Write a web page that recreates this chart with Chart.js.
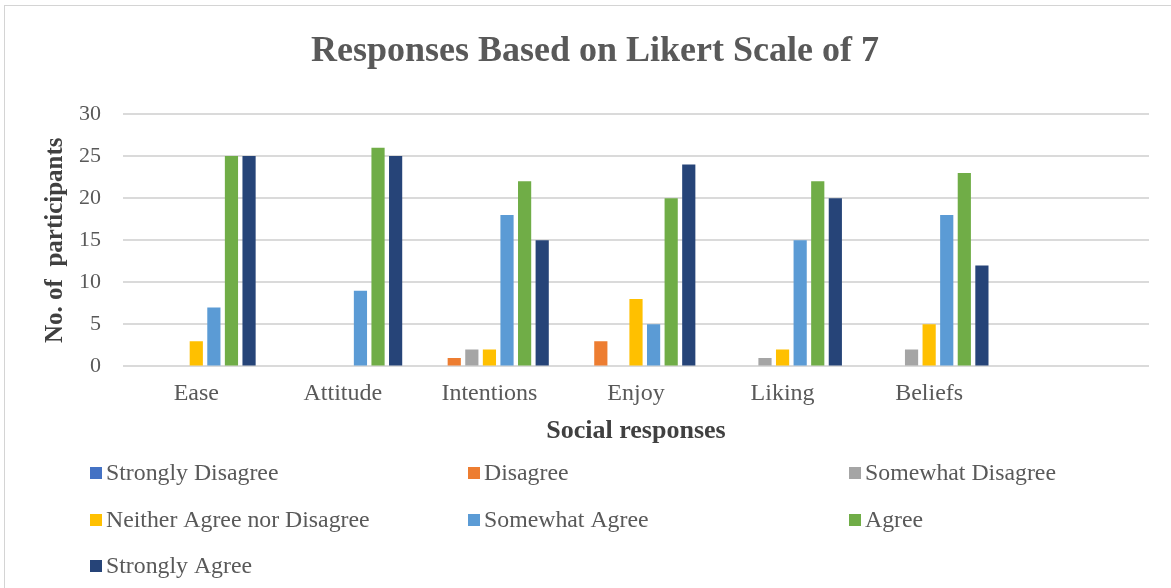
<!DOCTYPE html>
<html>
<head>
<meta charset="utf-8">
<title>Responses Based on Likert Scale of 7</title>
<script src="https://cdn.jsdelivr.net/npm/chart.js@4/dist/chart.umd.min.js"></script>
<style>
  html, body { margin: 0; padding: 0; background: #fff; }
  #wrap { position: relative; width: 1171px; height: 588px; overflow: hidden; }
  #frame { position: absolute; left: 4px; top: 5px; right: -2px; bottom: -2px;
           border-left: 1px solid #d4d4d4; border-top: 1px solid #d4d4d4; }
  canvas { position: absolute; left: 0; top: 0; }
</style>
</head>
<body>
<div id="wrap">
  <div id="frame"></div>
  <canvas id="likertChart" width="1171" height="588"></canvas>
</div>
<script>
// categories (last slot is left empty on the axis)
const categories = ["Ease", "Attitude", "Intentions", "Enjoy", "Liking", "Beliefs", ""];

// one array per answer on the 7-point scale
const stronglyDisagree = [0, 0, 0, 0, 0, 0, null];
const disagree         = [0, 0, 1, 3, 0, 0, null];
const somewhatDisagree = [0, 0, 2, 0, 1, 2, null];
const neither          = [3, 0, 2, 8, 2, 5, null];
const somewhatAgree    = [7, 9, 18, 5, 15, 18, null];
const agree            = [25, 26, 22, 20, 22, 23, null];
const stronglyAgree    = [25, 25, 15, 24, 20, 12, null];

const seriesNames = [
  "Strongly Disagree", "Disagree", "Somewhat Disagree",
  "Neither Agree nor Disagree", "Somewhat Agree", "Agree", "Strongly Agree"
];
const seriesValues = [stronglyDisagree, disagree, somewhatDisagree, neither, somewhatAgree, agree, stronglyAgree];
const seriesColors = ["#4472C4", "#ED7D31", "#A5A5A5", "#FFC000", "#5B9BD5", "#70AD47", "#264478"];

const yTicks = [0, 5, 10, 15, 20, 25, 30];

const serif = "'Liberation Serif', 'Times New Roman', serif";
const textGray = "#595959";

// legend laid out in three columns under the axis title
const columnLegend = {
  id: "columnLegend",
  afterDraw(chart) {
    const ctx = chart.ctx;
    const cols = [90, 468, 849];
    const rows = [473, 520, 566];
    ctx.save();
    ctx.font = "23.8px " + serif;
    ctx.textBaseline = "middle";
    ctx.textAlign = "left";
    chart.data.datasets.forEach((ds, i) => {
      const x = cols[i % 3];
      const y = rows[Math.floor(i / 3)];
      ctx.fillStyle = ds.backgroundColor;
      ctx.fillRect(x, y - 6, 12, 12);
      ctx.fillStyle = textGray;
      ctx.fillText(ds.label, x + 16, y + 1);
    });
    ctx.restore();
  }
};

new Chart(document.getElementById("likertChart"), {
  type: "bar",
  data: {
    labels: categories,
    datasets: seriesNames.map((name, i) => ({
      label: name,
      data: seriesValues[i],
      backgroundColor: seriesColors[i],
      borderWidth: 0,
      categoryPercentage: 0.84,
      barPercentage: 0.75
    }))
  },
  options: {
    responsive: false,
    animation: false,
    layout: { padding: { left: 41, right: 22, top: 0, bottom: 141 } },
    plugins: {
      legend: { display: false },
      tooltip: { enabled: false },
      title: {
        display: true,
        text: "Responses Based on Likert Scale of 7",
        color: textGray,
        font: { family: serif, size: 36, weight: "bold", lineHeight: 1.2 },
        padding: { top: 30, bottom: 40.8 }
      }
    },
    scales: {
      x: {
        grid: { display: false, drawTicks: false },
        border: { display: false },
        ticks: {
          color: textGray,
          font: { family: serif, size: 24, lineHeight: 1.2 },
          padding: 12.6,
          maxRotation: 0,
          autoSkip: false
        },
        title: {
          display: true,
          text: "Social responses",
          color: "#404040",
          font: { family: serif, size: 26, weight: "bold", lineHeight: 1.2 },
          padding: { top: -4.6, bottom: 0 }
        }
      },
      y: {
        min: 0,
        max: 30,
        afterBuildTicks(scale) {
          scale.ticks = yTicks.map(v => ({ value: v }));
        },
        grid: { color: "#dadada", lineWidth: 2, drawTicks: false },
        border: { display: false },
        ticks: {
          color: textGray,
          font: { family: serif, size: 22, lineHeight: 1.2 },
          padding: 22
        },
        title: {
          display: true,
          text: "No. of  participants",
          color: "#404040",
          font: { family: serif, size: 25, weight: "bold", lineHeight: 1.2 },
          padding: { top: 0, bottom: -14 }
        }
      }
    }
  },
  plugins: [columnLegend]
});
</script>
</body>
</html>
